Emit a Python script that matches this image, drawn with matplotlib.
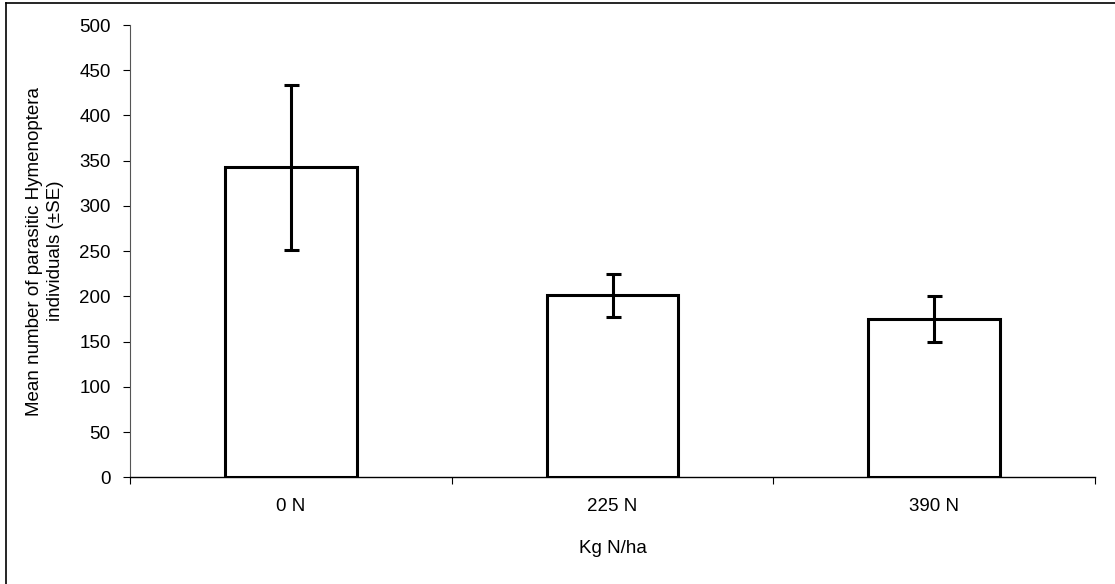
import numpy as np
import matplotlib.pyplot as plt
from matplotlib.lines import Line2D

plt.rcParams['font.family'] = ['Liberation Sans', 'DejaVu Sans']
plt.rcParams['font.size'] = 13.5

# data
categories = ['0 N', '225 N', '390 N']
means = [342.5, 201, 175]
se = [91, 23.5, 25.6]

fig = plt.figure(figsize=(11.15, 5.84), dpi=100)
ax = fig.add_axes([130 / 1115, 1 - 477.3 / 584, 965 / 1115, 452.3 / 584])

x = np.arange(len(categories))
ax.bar(x, means, width=0.41, facecolor='white', edgecolor='black',
       linewidth=2.2, zorder=2)
ax.errorbar(x, means, yerr=se, fmt='none', ecolor='black', elinewidth=2.2,
            capsize=5.4, capthick=2.2, zorder=3)

ax.set_xlim(-0.5, 2.5)
ax.set_ylim(0, 500)
ax.set_yticks(np.arange(0, 501, 50))
ax.set_xticks(x)
ax.set_xticklabels(categories)
ax.set_xticks(np.arange(-0.5, 2.6, 1), minor=True)
ax.tick_params(axis='x', which='major', length=0, pad=15)
ax.tick_params(axis='x', which='minor', length=5, width=0.8, direction='out')
ax.tick_params(axis='y', length=5, width=0.8, pad=9)

for s in ['top', 'right']:
    ax.spines[s].set_visible(False)
ax.spines['left'].set_linewidth(0.8)
ax.spines['left'].set_color('#555555')
ax.spines['bottom'].set_linewidth(1.0)

ax.set_ylabel('Mean number of parasitic Hymenoptera\nindividuals (±SE)',
              labelpad=11, linespacing=1.3)
ax.set_xlabel('Kg N/ha', labelpad=18)

# outer frame of the chart area
fig.add_artist(Line2D([6 / 1115, 6 / 1115], [0, 1 - 3 / 584], color='black', lw=1.2))
fig.add_artist(Line2D([6 / 1115, 1], [1 - 3 / 584, 1 - 3 / 584], color='black', lw=1.2))

fig.savefig('out.png', dpi=100)
